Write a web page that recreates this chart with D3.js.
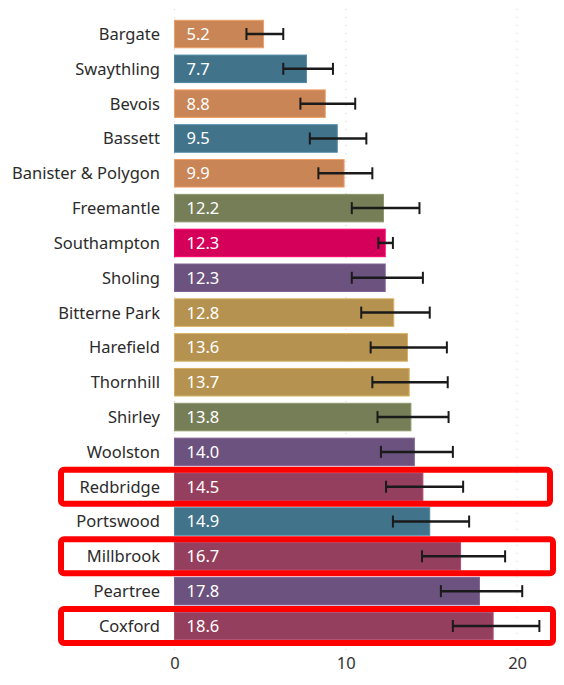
<!DOCTYPE html>
<html>
<head>
<meta charset="utf-8">
<script src="https://cdn.jsdelivr.net/npm/d3@7"></script>
<style>
  body { margin: 0; background: #fff; }
  svg { display: block; font-family: "Noto Sans", "Open Sans", sans-serif; }
</style>
</head>
<body>
<svg id="chart" width="564" height="685"></svg>
<script>
// wards, top to bottom
const wards = ["Bargate", "Swaythling", "Bevois", "Bassett", "Banister & Polygon", "Freemantle",
    "Southampton", "Sholing", "Bitterne Park", "Harefield", "Thornhill", "Shirley", "Woolston",
    "Redbridge", "Portswood", "Millbrook", "Peartree", "Coxford"];
const values = [5.2, 7.7, 8.8, 9.5, 9.9, 12.2, 12.3, 12.3, 12.8, 13.6, 13.7, 13.8, 14.0,
    14.5, 14.9, 16.7, 17.8, 18.6];
const lower = [4.2, 6.35, 7.35, 7.9, 8.4, 10.35, 11.9, 10.35, 10.9, 11.45, 11.55, 11.85, 12.05,
    12.35, 12.75, 14.45, 15.55, 16.25];
const upper = [6.35, 9.25, 10.55, 11.2, 11.55, 14.3, 12.75, 14.5, 14.9, 15.9, 15.95, 16.0, 16.25,
    16.85, 17.2, 19.3, 20.3, 21.3];
const groups = ["orange", "teal", "orange", "teal", "orange", "olive", "pink", "purple", "tan",
    "tan", "tan", "olive", "purple", "maroon", "teal", "maroon", "purple", "maroon"];
const highlighted = ["Redbridge", "Millbrook", "Coxford"];
const xTicks = [0, 10, 20];

const colors = {
    orange: "#c98556", teal: "#41738a", olive: "#767e58", pink: "#d5005a",
    purple: "#6c527e", tan: "#b5924f", maroon: "#953f5e"
};

const data = wards.map((w, i) => ({
    ward: w, value: values[i], lo: lower[i], hi: upper[i], group: groups[i]
}));

const svg = d3.select("#chart");
const fontSize = "16.5px";

const x = d3.scaleLinear()
    .domain([0, 22])
    .range([174.5, 174.5 + 22 * 17.13]);

const y = d3.scaleBand()
    .domain(wards)
    .range([16.6, 643.4])
    .paddingInner(0.21)
    .paddingOuter(0.105);

// dotted gridlines
svg.append("g")
    .selectAll("line")
    .data(xTicks)
    .enter().append("line")
    .attr("x1", d => x(d))
    .attr("x2", d => x(d))
    .attr("y1", 9)
    .attr("y2", 654)
    .attr("stroke", "#d4d4d4")
    .attr("stroke-width", 1)
    .attr("stroke-dasharray", "1,7");

// bottom axis labels
const xAxis = svg.append("g")
    .attr("transform", "translate(0,655)")
    .call(d3.axisBottom(x).tickValues(xTicks).tickSize(0).tickPadding(2));
xAxis.select(".domain").remove();
xAxis.selectAll("text")
    .style("font-family", "\"Noto Sans\", sans-serif")
    .style("font-size", fontSize)
    .attr("fill", "#333");

// bars
svg.append("g")
    .selectAll("rect")
    .data(data)
    .enter().append("rect")
    .attr("x", x(0))
    .attr("y", d => y(d.ward))
    .attr("width", d => x(d.value) - x(0))
    .attr("height", y.bandwidth())
    .attr("fill", d => colors[d.group])
    .attr("stroke", d => d3.color(colors[d.group]).brighter(0.5))
    .attr("stroke-width", 1);

// value labels
svg.append("g")
    .selectAll("text")
    .data(data)
    .enter().append("text")
    .attr("x", x(0) + 12)
    .attr("y", d => y(d.ward) + y.bandwidth() / 2)
    .attr("dy", "0.36em")
    .attr("fill", "#fff")
    .style("font-size", fontSize)
    .text(d => d.value.toFixed(1));

// category labels
svg.append("g")
    .selectAll("text")
    .data(data)
    .enter().append("text")
    .attr("x", 160)
    .attr("y", d => y(d.ward) + y.bandwidth() / 2)
    .attr("dy", "0.36em")
    .attr("text-anchor", "end")
    .attr("fill", "#2b2b2b")
    .style("font-size", fontSize)
    .text(d => d.ward);

// error bars
const err = svg.append("g").selectAll("g")
    .data(data)
    .enter().append("g")
    .attr("transform", d => `translate(0,${y(d.ward) + y.bandwidth() / 2})`);

err.append("line")
    .attr("x1", d => x(d.lo))
    .attr("x2", d => x(d.hi))
    .attr("stroke", "#1a1a1a")
    .attr("stroke-width", 2.5);

err.selectAll(".cap")
    .data(d => [d.lo, d.hi])
    .enter().append("line")
    .attr("class", "cap")
    .attr("x1", v => x(v))
    .attr("x2", v => x(v))
    .attr("y1", -6)
    .attr("y2", 6)
    .attr("stroke", "#1a1a1a")
    .attr("stroke-width", 2);

// red highlight boxes
svg.append("g")
    .selectAll("rect")
    .data(highlighted)
    .enter().append("rect")
    .attr("x", 61)
    .attr("y", d => y(d) + y.bandwidth() / 2 - 17)
    .attr("width", (d, i) => i === 0 ? 489 : 492)
    .attr("height", 34)
    .attr("rx", 3)
    .attr("fill", "none")
    .attr("stroke", "#ff0000")
    .attr("stroke-width", 6);
</script>
</body>
</html>
